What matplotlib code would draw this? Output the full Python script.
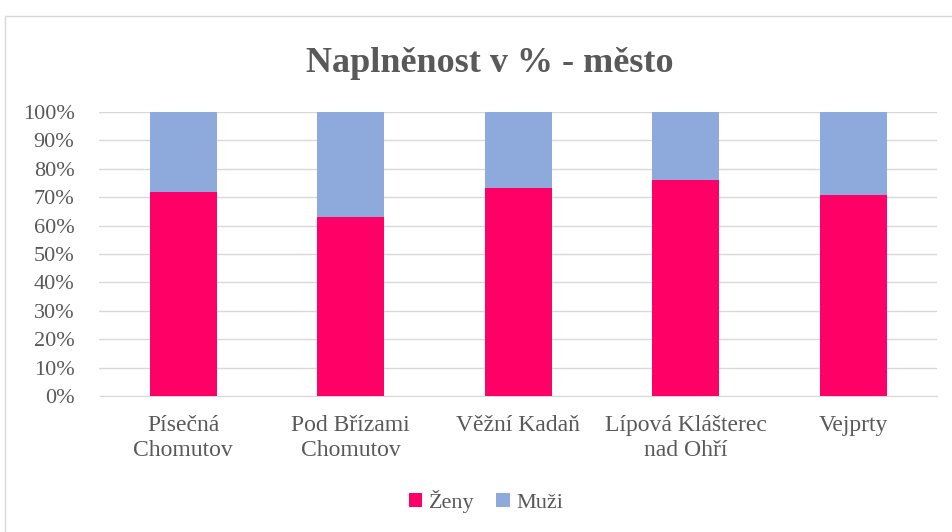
import matplotlib.pyplot as plt
from matplotlib.patches import Rectangle
from matplotlib.ticker import PercentFormatter

plt.rcParams['font.family'] = ['Liberation Serif', 'DejaVu Serif']

categories = ["Písečná\nChomutov", "Pod Břízami\nChomutov", "Věžní Kadaň",
              "Lípová Klášterec\nnad Ohří", "Vejprty"]
zeny = [71.8, 63.2, 73.2, 75.9, 70.7]
muzi = [100 - z for z in zeny]

text_col = "#595959"

fig = plt.figure(figsize=(9.53, 5.32), dpi=100)
fig.patches.append(Rectangle((4.5 / 953, -0.01), 1.0, (532 - 15.5) / 532 + 0.01,
                             transform=fig.transFigure, fill=False,
                             edgecolor="#d9d9d9", linewidth=1))
ax = fig.add_axes([99.5 / 953, 136 / 532, 837.5 / 953, 284 / 532])

x = range(len(categories))
ax.bar(x, zeny, width=0.4, color="#FF0066", label="Ženy", zorder=3)
ax.bar(x, muzi, width=0.4, bottom=zeny, color="#8EA9DB", label="Muži", zorder=3)

ax.set_xlim(-0.5, len(categories) - 0.5)
ax.set_ylim(0, 100)
ax.set_yticks(range(0, 101, 10))
ax.yaxis.set_major_formatter(PercentFormatter(decimals=0))
ax.set_xticks(list(x))
ax.set_xticklabels(categories)
ax.grid(axis="y", color="#d9d9d9", linewidth=1, zorder=0)
for s in ["top", "right", "left"]:
    ax.spines[s].set_visible(False)
ax.spines["bottom"].set_color("#d9d9d9")
ax.tick_params(length=0, labelsize=16, labelcolor=text_col)
ax.tick_params(axis="x", labelsize=17, pad=14)
ax.tick_params(axis="y", pad=18)

fig.text(0.514, 0.88, "Naplněnost v % - město", ha="center", va="center",
         fontsize=26, fontweight="bold", color=text_col)

fig.legend(loc="center", bbox_to_anchor=(0.51, 0.058), ncol=2, frameon=False,
           fontsize=16, labelcolor=text_col, handlelength=0.6, handleheight=0.6,
           handletextpad=0.3, columnspacing=1.0)

fig.savefig("out.png", dpi=100)
